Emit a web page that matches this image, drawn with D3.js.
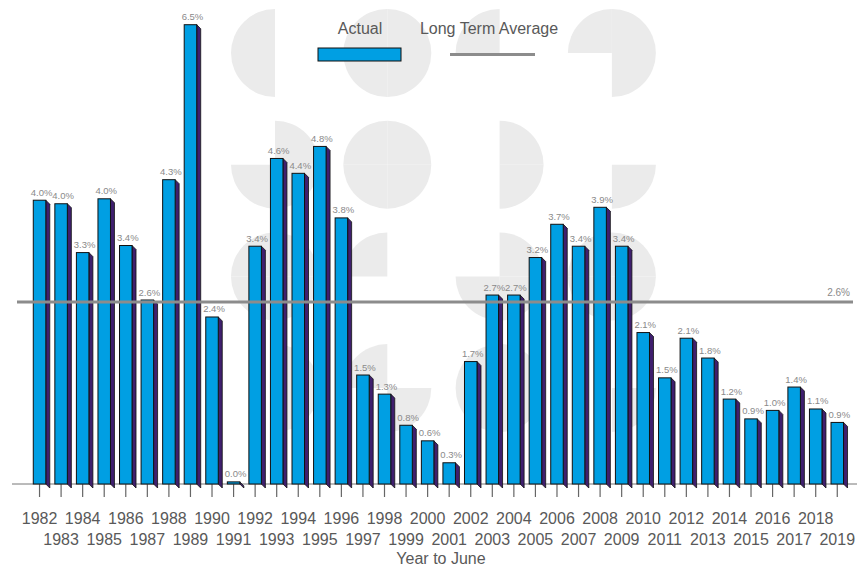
<!DOCTYPE html>
<html>
<head>
<meta charset="utf-8">
<script src="https://cdn.jsdelivr.net/npm/d3@7"></script>
<style>
  html, body { margin: 0; padding: 0; background: #ffffff; }
  svg { display: block; font-family: "Liberation Sans", Arial, sans-serif; }
</style>
</head>
<body>
<svg id="chart" width="857" height="568"></svg>
<script>
// ---- data ----
const years = ["1982","1983","1984","1985","1986","1987","1988","1989","1990","1991",
  "1992","1993","1994","1995","1996","1997","1998","1999","2000","2001",
  "2002","2003","2004","2005","2006","2007","2008","2009","2010","2011",
  "2012","2013","2014","2015","2016","2017","2018","2019"];
const actual = [4.01, 3.96, 3.27, 4.03, 3.37, 2.60, 4.30, 6.49, 2.36, 0.03,
  3.36, 4.60, 4.39, 4.77, 3.76, 1.54, 1.27, 0.83, 0.61, 0.30,
  1.73, 2.67, 2.67, 3.20, 3.67, 3.36, 3.91, 3.36, 2.14, 1.50,
  2.06, 1.78, 1.20, 0.92, 1.04, 1.37, 1.06, 0.87];
const longTermAverage = 2.57;
const seriesNames = ["Actual", "Long Term Average"];
const axisTitle = "Year to June";

// ---- style ----
const W = 857, H = 568;
const baseY = 484, topY = 24;
const frontColor = "#009fe3", sideColor = "#3f1f6e", avgColor = "#8c8c8c";
const depth = 4;
const svg = d3.select("#chart");

// ---- background watermark (decorative) ----
const Q = { TR: [0, Math.PI/2], BR: [Math.PI/2, Math.PI], BL: [Math.PI, 1.5*Math.PI], TL: [1.5*Math.PI, 2*Math.PI] };
const mark = [
  [["TL","BL"], ["TL","TR","BR","BL"], ["TL"], ["TL","TR","BR"]],
  [["TR","BR","BL"], ["TL","TR","BR","BL"], ["TR","BR"], ["BR"]],
  [["TL","TR","BR","BL"], ["TL"], ["TR","BR","BL"], ["TL","TR","BR","BL"]],
  [["TR","BR"], ["TL","BR"], ["TL","TR","BR","BL"], ["BR"]]
];
const wm = svg.append("g");
const arc = d3.arc().innerRadius(0).outerRadius(44);
mark.forEach((row, r) => row.forEach((qs, c) => {
  const cx = 275 + c * 112.3, cy = 53 + r * 111.7;
  qs.forEach(q => {
    wm.append("path")
      .attr("transform", `translate(${cx},${cy})`)
      .attr("d", arc({ startAngle: Q[q][0], endAngle: Q[q][1] }))
      .attr("fill", "#ebebeb");
  });
}));

// ---- scales ----
const x = d3.scaleBand().domain(years).range([22.5, 854.3]).paddingInner(0.42).paddingOuter(0.5);
const y = d3.scaleLinear().domain([0, 6.5]).range([baseY, topY]);
const bw = x.bandwidth();

// ---- baseline ----
svg.append("line").attr("x1", 12).attr("x2", 857).attr("y1", baseY).attr("y2", baseY)
  .attr("stroke", "#777").attr("stroke-width", 1);

// ---- axis ----
const axis = d3.axisBottom(x).tickSize(13).tickSizeOuter(0);
const ag = svg.append("g").attr("transform", `translate(0,${baseY})`).call(axis);
ag.select(".domain").remove();
ag.selectAll(".tick line").attr("stroke", "#666").attr("stroke-width", 1.2);
ag.selectAll(".tick text")
  .attr("dy", 0)
  .attr("y", (d, i) => i % 2 === 0 ? 40 : 61)
  .attr("fill", "#595959")
  .style("font-size", "16px")
  .style("font-family", "'Liberation Sans', Arial, sans-serif");

// ---- bars ----
const bars = svg.append("g").selectAll("g").data(years.map((yr, i) => ({ yr, v: actual[i] }))).join("g");
bars.append("path")
  .attr("d", d => {
    const x1 = x(d.yr) + bw, yt = y(d.v);
    return `M${x1},${yt} L${x1 + depth},${yt + depth} L${x1 + depth},${baseY + depth} L${x1},${baseY} Z`;
  })
  .attr("fill", sideColor).attr("stroke", "#111").attr("stroke-width", 0.8).attr("stroke-linejoin", "round");
bars.append("rect")
  .attr("x", d => x(d.yr)).attr("y", d => y(d.v))
  .attr("width", bw).attr("height", d => baseY - y(d.v))
  .attr("fill", frontColor).attr("stroke", "#111").attr("stroke-width", 1);

// ---- average line ----
svg.append("line").attr("x1", 17).attr("x2", 853)
  .attr("y1", y(longTermAverage)).attr("y2", y(longTermAverage))
  .attr("stroke", avgColor).attr("stroke-width", 3);
svg.append("text").attr("x", 850).attr("y", y(longTermAverage) - 6)
  .attr("text-anchor", "end").attr("fill", "#8a8a8a").style("font-size", "10px")
  .text(longTermAverage.toFixed(1) + "%");

// ---- value labels ----
svg.append("g").selectAll("text").data(years.map((yr, i) => ({ yr, v: actual[i] }))).join("text")
  .attr("x", d => x(d.yr) + (bw + depth) / 2)
  .attr("y", d => y(d.v) - 4.5)
  .attr("text-anchor", "middle")
  .attr("fill", "#8a8a8a")
  .style("font-size", "9.5px")
  .text(d => d.v.toFixed(1) + "%");

// ---- legend ----
const lg = svg.append("g");
lg.append("text").attr("x", 360).attr("y", 34).attr("text-anchor", "middle")
  .attr("fill", "#595959").style("font-size", "16px").text(seriesNames[0]);
lg.append("rect").attr("x", 318).attr("y", 48).attr("width", 83).attr("height", 13)
  .attr("fill", frontColor).attr("stroke", "#111").attr("stroke-width", 1);
lg.append("text").attr("x", 489).attr("y", 34).attr("text-anchor", "middle")
  .attr("fill", "#595959").style("font-size", "16px").text(seriesNames[1]);
lg.append("line").attr("x1", 450).attr("x2", 535).attr("y1", 54.5).attr("y2", 54.5)
  .attr("stroke", avgColor).attr("stroke-width", 3);

// ---- axis title ----
svg.append("text").attr("x", 441).attr("y", 564).attr("text-anchor", "middle")
  .attr("fill", "#595959").style("font-size", "16px").text(axisTitle);
</script>
</body>
</html>
